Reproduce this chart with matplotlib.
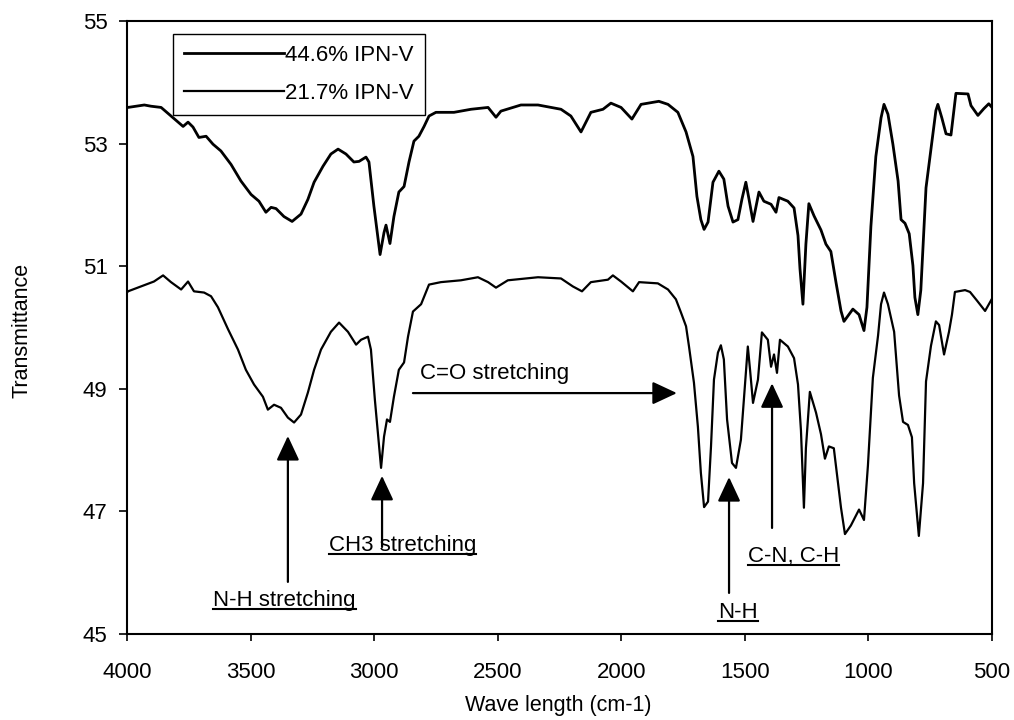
import matplotlib
matplotlib.use("Agg")
import matplotlib.pyplot as plt
from matplotlib.lines import Line2D

plt.rcParams['font.family'] = ['Liberation Sans', 'DejaVu Sans']

# ---------------- data ----------------
wn_upper = [4000, 3996, 3930, 3903, 3862, 3822, 3773, 3753, 3733, 3709, 3680, 3652, 3620, 3579,
            3539, 3498, 3466, 3438, 3417, 3397, 3365, 3332, 3296, 3268, 3243, 3207, 3175, 3146,
            3114, 3082, 3061, 3033, 3021, 3001, 2976, 2960, 2952, 2936, 2920, 2900, 2879, 2859,
            2839, 2819, 2798, 2778, 2750, 2677, 2608, 2539, 2507, 2487, 2406, 2337, 2244, 2204,
            2163, 2123, 2074, 2042, 2001, 1957, 1920, 1848, 1811, 1771, 1738, 1710, 1694, 1678,
            1665, 1649, 1629, 1605, 1585, 1568, 1548, 1528, 1512, 1496, 1483, 1467, 1443, 1423,
            1394, 1374, 1362, 1326, 1301, 1285, 1277, 1265, 1253, 1241, 1220, 1192, 1172, 1152,
            1131, 1111, 1099, 1063, 1038, 1018, 1006, 990, 970, 949, 937, 921, 901, 880, 868,
            852, 835, 820, 812, 800, 788, 767, 747, 727, 719, 703, 686, 666, 654, 646, 597, 585,
            557, 533, 513, 500]
t_upper = [53.60, 53.59, 53.63, 53.61, 53.59, 53.45, 53.28, 53.35, 53.27, 53.10, 53.12, 52.99, 52.88, 52.66,
           52.39, 52.17, 52.06, 51.88, 51.96, 51.94, 51.81, 51.73, 51.85, 52.09, 52.37, 52.63, 52.83, 52.91,
           52.83, 52.70, 52.71, 52.78, 52.70, 51.98, 51.19, 51.55, 51.67, 51.37, 51.81, 52.21, 52.30, 52.70,
           53.04, 53.12, 53.28, 53.45, 53.51, 53.51, 53.56, 53.59, 53.43, 53.53, 53.63, 53.63, 53.56, 53.45,
           53.19, 53.51, 53.56, 53.66, 53.59, 53.40, 53.64, 53.69, 53.64, 53.51, 53.19, 52.79, 52.14, 51.76,
           51.60, 51.72, 52.37, 52.55, 52.42, 51.98, 51.72, 51.76, 52.09, 52.37, 52.09, 51.73, 52.21, 52.06,
           52.01, 51.88, 52.12, 52.06, 51.95, 51.50, 50.96, 50.38, 51.36, 52.02, 51.82, 51.59, 51.36, 51.24,
           50.73, 50.27, 50.10, 50.30, 50.21, 49.95, 50.33, 51.65, 52.79, 53.42, 53.64, 53.48, 52.99, 52.39, 51.76,
           51.70, 51.53, 51.01, 50.49, 50.21, 50.61, 52.28, 52.91, 53.54, 53.64, 53.42, 53.16, 53.14, 53.54, 53.82, 53.81, 53.62,
           53.46, 53.57, 53.65, 53.59]

wn_lower = [4000, 3996, 3943, 3891, 3854, 3822, 3781, 3753, 3729, 3688, 3660, 3632, 3591, 3551,
            3519, 3486, 3450, 3430, 3405, 3377, 3349, 3324, 3296, 3268, 3243, 3215, 3175, 3142,
            3106, 3073, 3053, 3025, 3013, 2997, 2972, 2960, 2948, 2936, 2920, 2900, 2879, 2863,
            2843, 2810, 2778, 2730, 2649, 2580, 2539, 2507, 2459, 2337, 2244, 2196, 2159, 2123,
            2054, 2034, 2001, 1953, 1928, 1852, 1811, 1779, 1759, 1738, 1726, 1706, 1690, 1678,
            1665, 1649, 1637, 1625, 1609, 1597, 1585, 1572, 1552, 1536, 1516, 1504, 1488, 1479,
            1467, 1447, 1431, 1407, 1394, 1382, 1370, 1358, 1326, 1301, 1285, 1273, 1261, 1253,
            1237, 1212, 1192, 1176, 1160, 1140, 1123, 1111, 1095, 1071, 1038, 1018, 1002, 982,
            961, 949, 937, 921, 896, 876, 860, 840, 824, 815, 796, 779, 767, 747, 727, 714, 694,
            674, 662, 650, 609, 589, 561, 528, 500]
t_lower = [50.57, 50.59, 50.67, 50.75, 50.85, 50.74, 50.62, 50.75, 50.59, 50.57, 50.51, 50.33, 49.97, 49.64,
           49.31, 49.07, 48.87, 48.66, 48.74, 48.69, 48.53, 48.45, 48.58, 48.94, 49.31, 49.64, 49.93, 50.08,
           49.93, 49.72, 49.80, 49.85, 49.64, 48.82, 47.71, 48.22, 48.50, 48.46, 48.87, 49.31, 49.43, 49.85,
           50.26, 50.38, 50.70, 50.74, 50.77, 50.82, 50.74, 50.65, 50.77, 50.82, 50.80, 50.67, 50.59, 50.74,
           50.78, 50.85, 50.75, 50.59, 50.74, 50.72, 50.62, 50.46, 50.25, 50.02, 49.69, 49.10, 48.38, 47.63,
           47.07, 47.16, 48.06, 49.15, 49.59, 49.71, 49.48, 48.50, 47.79, 47.71, 48.17, 48.82, 49.69, 49.31,
           48.77, 49.15, 49.92, 49.80, 49.36, 49.56, 49.26, 49.80, 49.69, 49.50, 49.07, 48.32, 47.06, 48.03,
           48.95, 48.61, 48.26, 47.86, 48.06, 48.03, 47.46, 47.06, 46.63, 46.77, 47.03, 46.86, 47.75, 49.18,
           49.87, 50.38, 50.57, 50.38, 49.93, 48.89, 48.46, 48.41, 48.21, 47.46, 46.60, 47.46, 49.12, 49.70, 50.10, 50.04, 49.56,
           49.93, 50.21, 50.58, 50.61, 50.58, 50.44, 50.27, 50.47]

series_labels = ["44.6% IPN-V", "21.7% IPN-V"]
x_ticks = [4000, 3500, 3000, 2500, 2000, 1500, 1000, 500]
y_ticks = [45, 47, 49, 51, 53, 55]

# annotation texts: (label, x, y baseline)
labels = [("N-H stretching", 3652, 45.46),
          ("CH3 stretching", 3183, 46.35),
          ("N-H", 1609, 45.26),
          ("C-N, C-H", 1487, 46.17)]
plain_labels = [("C=O stretching", 2815, 49.16)]
# arrows: (x_tail, y_tail, x_tip, y_tip)
arrows = [(3349, 45.85, 3349, 48.23),
          (2968, 46.42, 2968, 47.58),
          (2843, 48.93, 1775, 48.93),
          (1564, 45.67, 1564, 47.56),
          (1390, 46.73, 1390, 49.09)]

# ---------------- figure ----------------
W, H = 1014, 720
fig = plt.figure(figsize=(W / 100, H / 100), dpi=100)
ax = fig.add_axes([127 / W, (H - 634) / H, 865 / W, 613 / H])

l1, = ax.plot(wn_upper, t_upper, color='black', lw=2.0, label=series_labels[0])
l2, = ax.plot(wn_lower, t_lower, color='black', lw=1.6, label=series_labels[1])

ax.set_xlim(4000, 500)
ax.set_ylim(45, 55)
ax.set_xticks(x_ticks)
ax.set_yticks(y_ticks)
ax.tick_params(axis='x', direction='out', length=5, width=1.2, pad=15, labelsize=16)
ax.tick_params(axis='y', direction='out', length=6, width=1.2, pad=8, labelsize=16)
for s in ax.spines.values():
    s.set_linewidth(1.5)
    s.set_color('black')

fig.text(558 / W, 1 - 705 / H, "Wave length (cm-1)", ha='center', va='center', fontsize=15.5)
fig.text(22 / W, 1 - 330 / H, "Transmittance", ha='center', va='center', rotation=90, fontsize=15.5)

leg = ax.legend(handles=[l1, l2], loc='upper left',
                bbox_to_anchor=((173 - 127) / 865, (634 - 34) / 613),
                borderaxespad=0, fontsize=16, handlelength=4.5, handletextpad=0.05,
                labelspacing=0.75, borderpad=0.5, fancybox=False, framealpha=1,
                edgecolor='black')
leg.get_frame().set_linewidth(1.0)

for (x0, y0, x1, y1) in arrows:
    ax.annotate('', xy=(x1, y1), xytext=(x0, y0),
                arrowprops=dict(arrowstyle='-|>,head_length=0.75,head_width=0.35',
                                mutation_scale=20, color='black', lw=1.6,
                                shrinkA=0, shrinkB=0))

texts = []
for (s, x, y) in labels:
    texts.append(ax.text(x, y, s, ha='left', va='baseline', fontsize=16))
for (s, x, y) in plain_labels:
    ax.text(x, y, s, ha='left', va='baseline', fontsize=16)

fig.canvas.draw()
renderer = fig.canvas.get_renderer()
inv = fig.transFigure.inverted()
for t in texts:
    bb = t.get_window_extent(renderer)
    xb, yb = ax.transData.transform(t.get_position())
    p0 = inv.transform((bb.x0, yb - 3))
    p1 = inv.transform((bb.x1, yb - 3))
    fig.add_artist(Line2D([p0[0], p1[0]], [p0[1], p1[1]], transform=fig.transFigure,
                          color='black', lw=1.5))

fig.savefig("out.png", dpi=100)
